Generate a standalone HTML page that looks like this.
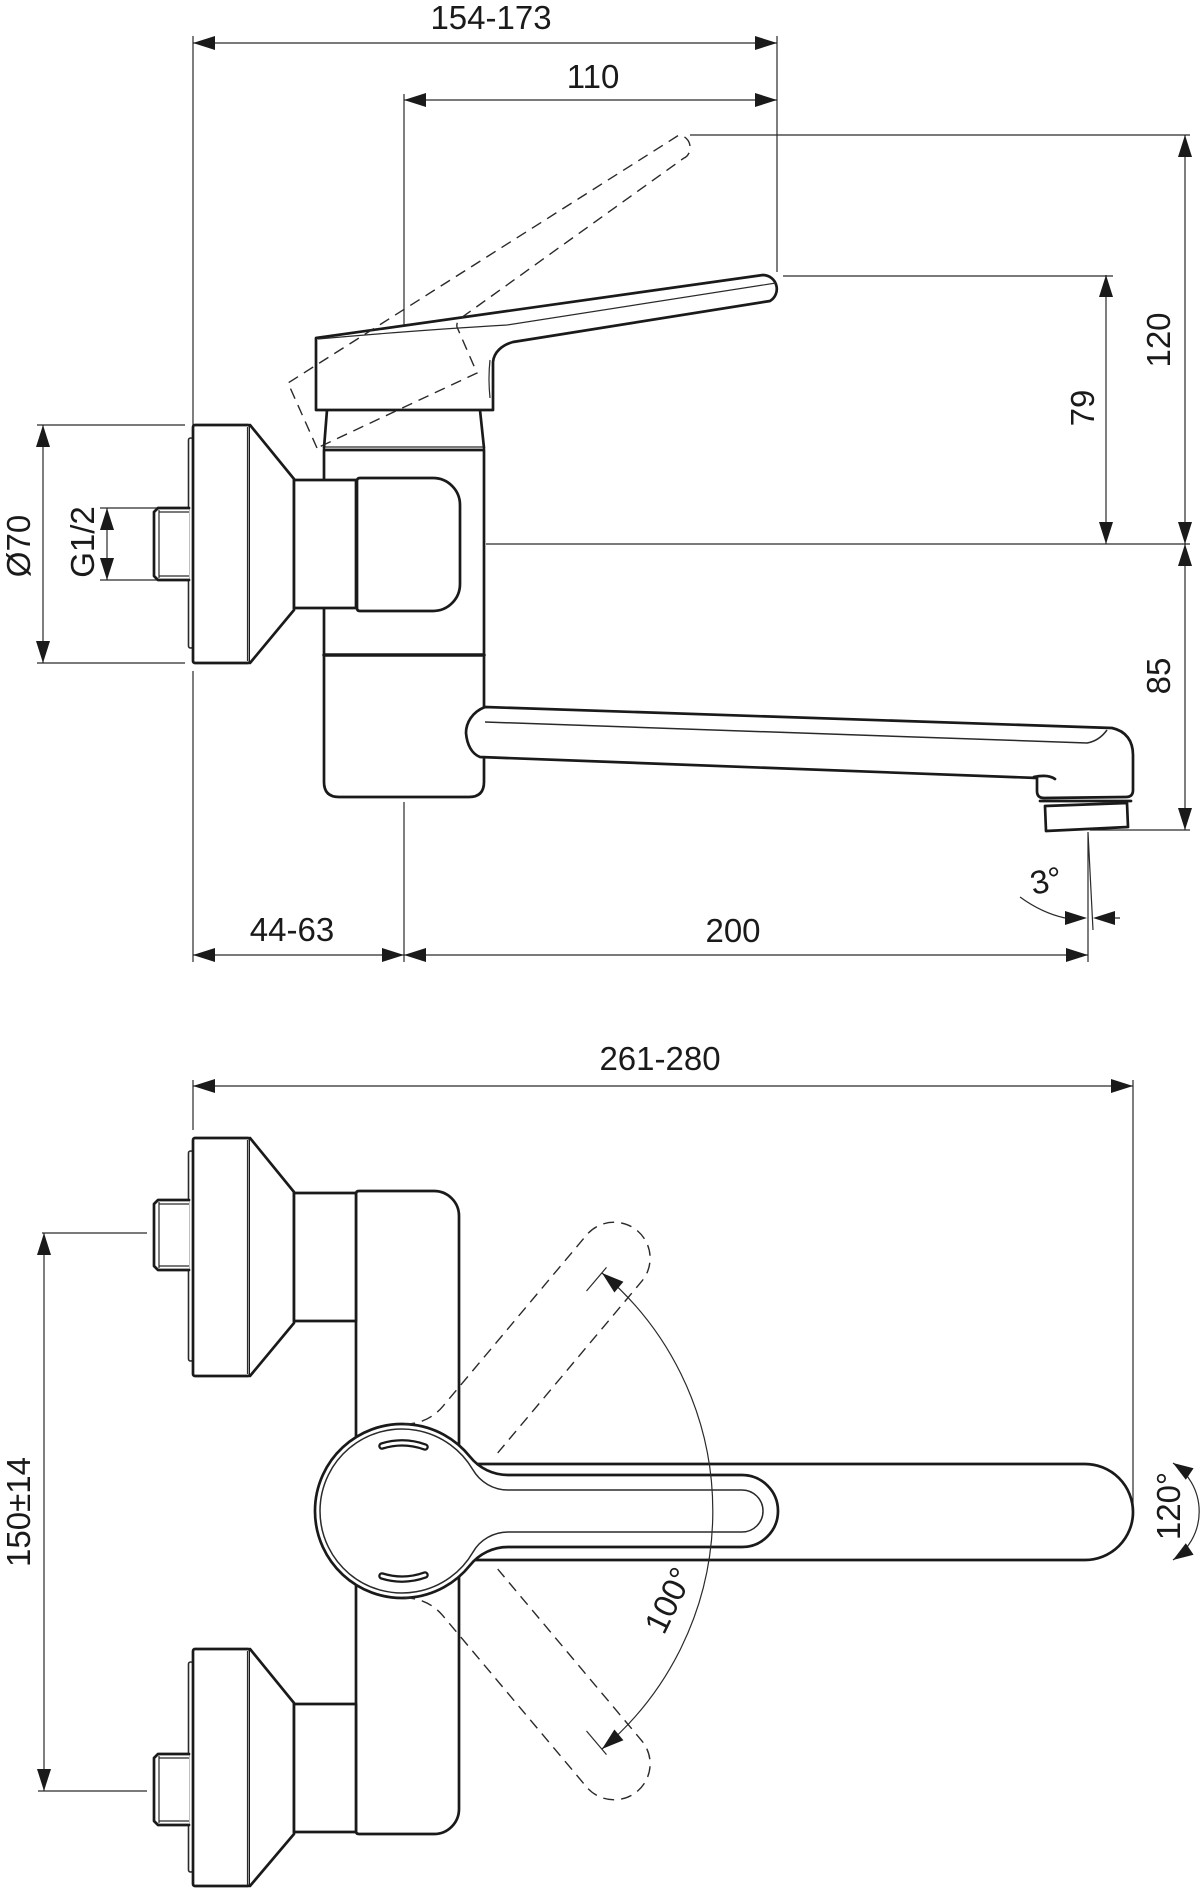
<!DOCTYPE html>
<html>
<head>
<meta charset="utf-8">
<style>
  html,body{margin:0;padding:0;background:#fff;}
  svg{display:block;}
  .t{stroke:#1a1a1a;stroke-width:2.7;fill:#fff;stroke-linejoin:round;stroke-linecap:round;}
  .tn{stroke:#1a1a1a;stroke-width:2.7;fill:none;stroke-linejoin:round;stroke-linecap:round;}
  .th{stroke:#2a2a2a;stroke-width:1.2;fill:none;}
  .d{stroke:#2a2a2a;stroke-width:1.4;fill:none;stroke-dasharray:11 7;}
  .a{fill:#1a1a1a;stroke:none;}
  text{font-family:"Liberation Sans",Arial,sans-serif;font-size:33px;fill:#1a1a1a;}
</style>
</head>
<body>
<svg width="1200" height="1888" viewBox="0 0 1200 1888" xmlns="http://www.w3.org/2000/svg">

<!-- ================= TOP (SIDE) VIEW ================= -->
<!-- extension lines -->
<path class="th" d="M193 36 V425 M193 671 V962 M404 94 V326 M404 802 V962 M777 36 V272
  M690 135 H1190 M783 276 H1113 M486 544 H1190 M1090 830 H1190
  M37 425 H185 M37 663 H185 M100 508 H157 M100 580 H157
  M1088 832 V962 M1088 832 L1093 930"/>
<!-- dimension lines -->
<path class="th" d="M193 43 H777 M404 100 H777 M1185 135 V544 M1106 275 V544 M1185 544 V830
  M43 425 V663 M107 508 V580 M193 955 H1088 M1020 897 Q1042 913 1065 918 M1115 918 H1120"/>
<!-- arrows -->
<polygon class="a" points="193,43 215,36 215,50"/>
<polygon class="a" points="777,43 755,36 755,50"/>
<polygon class="a" points="404,100 426,93 426,107"/>
<polygon class="a" points="777,100 755,93 755,107"/>
<polygon class="a" points="1185,135 1178,157 1192,157"/>
<polygon class="a" points="1185,544 1178,522 1192,522"/>
<polygon class="a" points="1106,275 1099,297 1113,297"/>
<polygon class="a" points="1106,544 1099,522 1113,522"/>
<polygon class="a" points="1185,544 1178,566 1192,566"/>
<polygon class="a" points="1185,830 1178,808 1192,808"/>
<polygon class="a" points="43,425 36,447 50,447"/>
<polygon class="a" points="43,663 36,641 50,641"/>
<polygon class="a" points="107,508 100,530 114,530"/>
<polygon class="a" points="107,580 100,558 114,558"/>
<polygon class="a" points="193,955 215,948 215,962"/>
<polygon class="a" points="404,955 382,948 382,962"/>
<polygon class="a" points="404,955 426,948 426,962"/>
<polygon class="a" points="1088,955 1066,948 1066,962"/>
<polygon class="a" points="1087,918 1065,911 1065,925"/>
<polygon class="a" points="1093,918 1115,911 1115,925"/>

<!-- body -->
<path class="t" d="M324 450 V782 Q324 797 339 797 H469 Q484 797 484 782 V450 Z"/>
<path class="tn" d="M327 410 L324 448 M480 410 L484 448"/>
<path class="th" d="M325 447 H483"/>
<path class="tn" d="M324 655 H484" style="stroke-width:3.5"/>

<!-- lever -->
<path class="t" d="M316 410 L316 338 L763 275 A14 14 0 0 1 770 301 L513 342 C502 345 494 352 493 362 L493 410 Z"/>
<path class="th" d="M318 339 Q420 330 507 325 L776 283"/>
<path class="th" d="M490 360 Q488 378 490 398"/>

<!-- flange / connector / cap -->
<rect class="th" x="188.5" y="438" width="4.5" height="210" rx="2" style="stroke-width:1.6"/>
<rect class="t" x="193" y="425" width="57" height="238" rx="2"/>
<path class="th" d="M247.5 427 V661"/>
<path class="t" d="M250 425 L294 479 V610 L250 663"/>
<path class="t" d="M189 508 H158 L154 512 V576 L158 580 H189"/>
<path class="th" d="M159 510 V578 M159 512 H189 M159 576 H189"/>
<rect class="t" x="294" y="480" width="62" height="128"/>
<path class="t" d="M360 478 H433 A27 27 0 0 1 460 505 V584 A27 27 0 0 1 433 611 H360 Q357 611 357 608 V481 Q357 478 360 478 Z"/>

<!-- spout -->
<path class="t" d="M485 707 L1112 728 C1126 731 1133 741 1133 755 L1133 790 Q1133 797 1126 797 L1044 798 Q1037 798 1037 791 L1037 778 L480 757 C472 754 467 745 466 733 C466 723 472 712 485 707 Z"/>
<path class="th" d="M485 722 L1087 743 Q1099 741 1107 730" style="stroke-width:1.5"/>
<path class="tn" d="M1034 777 Q1048 774 1055 779"/>
<path class="tn" d="M1040 801 H1131"/>
<polygon class="t" points="1045,806 1127,803 1128,827 1046,831"/>

<!-- dashed rotated lever -->
<path class="d" d="M317 448 L288 383 L679 135 C687 136 691 143 690 150 C689 154 687 157 684 158 L461 318 Q456 322 457 327 L477 373 L317 448"/>

<!-- top view texts -->
<text x="491" y="29" text-anchor="middle">154-173</text>
<text x="593" y="88" text-anchor="middle">110</text>
<text transform="translate(1158,340) rotate(-90)" x="0" y="12" text-anchor="middle">120</text>
<text transform="translate(1082,408) rotate(-90)" x="0" y="12" text-anchor="middle">79</text>
<text transform="translate(1158,676) rotate(-90)" x="0" y="12" text-anchor="middle">85</text>
<text transform="translate(18,546) rotate(-90)" x="0" y="12" text-anchor="middle">Ø70</text>
<text transform="translate(82,542) rotate(-90)" x="0" y="12" text-anchor="middle">G1/2</text>
<text x="292" y="941" text-anchor="middle">44-63</text>
<text x="733" y="942" text-anchor="middle">200</text>
<text transform="translate(1046,880) rotate(-12)" x="0" y="12" text-anchor="middle">3°</text>

<!-- ================= BOTTOM (TOP-DOWN) VIEW ================= -->
<path class="th" d="M193 1080 V1130 M1133 1080 V1512 M193 1086 H1133
  M42 1233 H147 M38 1791 H147 M44 1233 V1791"/>
<polygon class="a" points="193,1086 215,1079 215,1093"/>
<polygon class="a" points="1133,1086 1111,1079 1111,1093"/>
<polygon class="a" points="44,1233 37,1255 51,1255"/>
<polygon class="a" points="44,1791 37,1769 51,1769"/>

<!-- body -->
<path class="t" d="M359 1191 H434 A25 25 0 0 1 459 1216 V1809 A25 25 0 0 1 434 1834 H359 Q356 1834 356 1831 V1194 Q356 1191 359 1191 Z"/>

<!-- top flange group -->
<rect class="th" x="188.5" y="1151" width="4.5" height="210" rx="2" style="stroke-width:1.6"/>
<rect class="t" x="193" y="1138" width="57" height="238" rx="2"/>
<path class="th" d="M247.5 1140 V1374"/>
<path class="t" d="M250 1138 L294 1192 V1323 L250 1376"/>
<rect class="t" x="294" y="1193" width="62" height="128"/>
<path class="t" d="M189 1200 H158 L154 1204 V1266 L158 1270 H189"/>
<path class="th" d="M159 1202 V1268 M159 1204 H189 M159 1266 H189"/>

<!-- bottom flange group -->
<rect class="th" x="188.5" y="1662" width="4.5" height="210" rx="2" style="stroke-width:1.6"/>
<rect class="t" x="193" y="1649" width="57" height="237" rx="2"/>
<path class="th" d="M247.5 1651 V1885"/>
<path class="t" d="M250 1649 L294 1703 V1834 L250 1886"/>
<rect class="t" x="294" y="1704" width="62" height="128"/>
<path class="t" d="M189 1754 H158 L154 1758 V1821 L158 1825 H189"/>
<path class="th" d="M159 1756 V1823 M159 1758 H189 M159 1821 H189"/>

<!-- spout (under lever) -->
<path class="t" d="M472 1464 H1085 A48 48 0 0 1 1085 1560 H472 Z"/>

<!-- handle -->
<g transform="translate(402,1511)">
  <path class="t" d="M67.96 -54.3 A48.7 48.7 0 0 0 106 -36 L340 -36 A36 36 0 0 1 340 36 L106 36 A48.7 48.7 0 0 0 67.96 54.3 A87 87 0 1 1 67.96 -54.3 Z"/>
  <path class="th" style="stroke-width:1.5" d="M70.9 -41.2 A40.6 40.6 0 0 0 106 -21 L340 -21 A21 21 0 0 1 340 21 L106 21 A40.6 40.6 0 0 0 70.9 41.2 A82 82 0 1 1 70.9 -41.2 Z"/>
</g>
<!-- slots -->
<path d="M382 1446 A68 68 0 0 1 425 1447" stroke="#1a1a1a" stroke-width="7.5" fill="none" stroke-linecap="round"/>
<path d="M382 1446 A68 68 0 0 1 425 1447" stroke="#fff" stroke-width="3" fill="none" stroke-linecap="round"/>
<path d="M382 1576 A68 68 0 0 0 425 1575" stroke="#1a1a1a" stroke-width="7.5" fill="none" stroke-linecap="round"/>
<path d="M382 1576 A68 68 0 0 0 425 1575" stroke="#fff" stroke-width="3" fill="none" stroke-linecap="round"/>

<!-- dashed rotated levers -->
<g transform="translate(402,1511) rotate(-50)">
  <path class="d" d="M67.96 -54.3 A48.7 48.7 0 0 0 106 -36 L330 -36 A36 36 0 0 1 330 36 L106 36"/>
</g>
<g transform="translate(402,1511) rotate(50)">
  <path class="d" d="M67.96 54.3 A48.7 48.7 0 0 1 106 36 L330 36 A36 36 0 0 0 330 -36 L106 -36"/>
</g>

<!-- 100° arc -->
<path class="th" d="M602 1273 A311 311 0 0 1 602 1749"/>
<path class="th" d="M586.5 1291 L606.5 1267.4 M586.5 1731 L606.5 1754.6"/>
<polygon class="a" points="602,1273 623.4,1281.7 614.4,1292.5"/>
<polygon class="a" points="602,1749 623.4,1740.3 614.4,1729.5"/>

<!-- 120° arc -->
<path class="th" d="M1173 1463 A58 58 0 0 1 1173 1560"/>
<polygon class="a" points="1173,1463 1193.6,1468.2 1185.8,1479.8"/>
<polygon class="a" points="1173,1560 1193.6,1554.8 1185.8,1543.2"/>

<!-- bottom view texts -->
<text x="660" y="1070" text-anchor="middle">261-280</text>
<text transform="translate(18,1512) rotate(-90)" x="0" y="12" text-anchor="middle">150±14</text>
<text transform="translate(1168,1506) rotate(-90)" x="0" y="12" text-anchor="middle">120°</text>
<text transform="translate(668,1600) rotate(-64)" x="0" y="12" text-anchor="middle">100°</text>

</svg>
</body>
</html>
